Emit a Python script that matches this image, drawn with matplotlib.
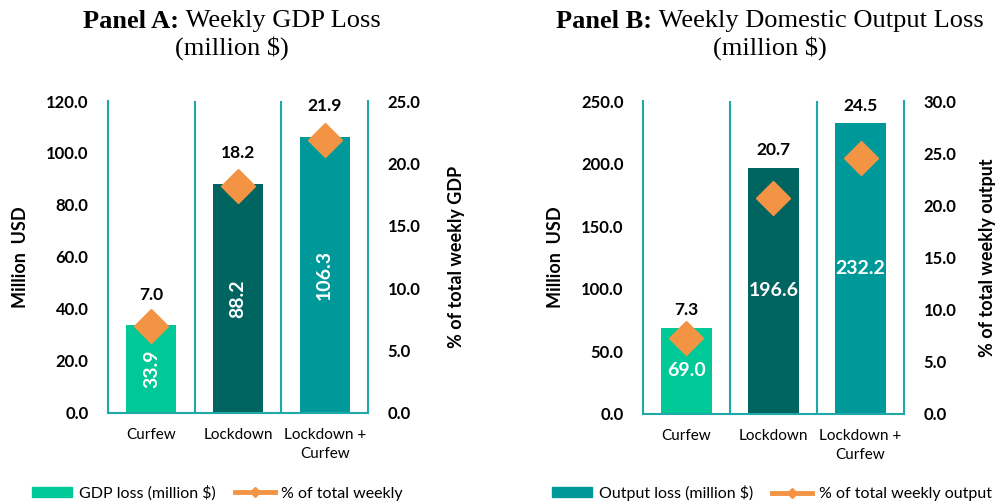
import matplotlib.pyplot as plt
import numpy as np
from matplotlib.lines import Line2D
from matplotlib.patches import Patch

plt.rcParams['font.family'] = ['Lato', 'DejaVu Sans']

categories = ['Curfew', 'Lockdown', 'Lockdown +\nCurfew']
gdp_loss = [33.9, 88.2, 106.3]
gdp_pct = [7.0, 18.2, 21.9]
output_loss = [69.0, 196.6, 232.2]
output_pct = [7.3, 20.7, 24.5]

bar_colors = ['#00c896', '#006461', '#009999']
orange = '#f39445'
teal_line = '#1fa8a8'

fig = plt.figure(figsize=(10.02, 5.04), dpi=100)
titles = []


def panel(rect, loss, pct, ymax, ystep, pmax, title_bold, title_rest, title_cx,
          right_label, right_pad, legend_bar, legend_bar_color, legend_line,
          rotate_inner, label_pad, leg_x):
    ax = fig.add_axes(rect)
    x = np.arange(len(categories))
    ax.bar(x, loss, width=0.58, color=bar_colors, zorder=2)
    ax.set_xlim(-0.5, 2.5)
    ax.set_ylim(0, ymax)
    ticks = np.arange(0, ymax + 0.01, ystep)
    ax.set_yticks(ticks)
    ax.set_yticklabels([f'{v:.1f}' for v in ticks])
    ax.set_xticks(x)
    ax.set_xticklabels(categories, fontsize=11, linespacing=1.4)
    ax.tick_params(axis='y', length=0, pad=14, labelsize=12)
    ax.tick_params(axis='x', length=0, pad=11)
    for lab in ax.get_yticklabels():
        lab.set_fontweight('bold')
    ax.spines['top'].set_visible(False)
    for s in ['left', 'right', 'bottom']:
        ax.spines[s].set_color(teal_line)
        ax.spines[s].set_linewidth(1.5)
    for sep in [0.5, 1.5]:
        ax.axvline(sep, color=teal_line, lw=1.5, zorder=1)
    ax.set_ylabel('Million  USD', fontsize=13, fontweight='bold', labelpad=12)

    for i, v in enumerate(loss):
        ax.text(i, v / 2, f'{v:.1f}', rotation=90 if rotate_inner else 0,
                ha='center', va='center', color='white', fontsize=14,
                fontweight='bold', zorder=4)

    ax2 = ax.twinx()
    ax2.set_ylim(0, pmax)
    pticks = np.arange(0, pmax + 0.01, 5)
    ax2.set_yticks(pticks)
    ax2.set_yticklabels([f'{v:.1f}' for v in pticks])
    ax2.tick_params(axis='y', length=0, pad=14, labelsize=12)
    for lab in ax2.get_yticklabels():
        lab.set_fontweight('bold')
    for s in ax2.spines.values():
        s.set_visible(False)
    ax2.plot(x, pct, linestyle='none', marker='D', markersize=17,
             color=orange, zorder=5)
    ax2.set_ylabel(right_label, fontsize=13, fontweight='bold',
                   labelpad=right_pad)

    for i, v in enumerate(pct):
        top = max(v, loss[i] / ymax * pmax)
        ax2.annotate(f'{v:.1f}', (i, top), xytext=(0, label_pad),
                     textcoords='offset points', ha='center', va='bottom',
                     fontsize=12.5, fontweight='bold')

    t1 = fig.text(0, 0.958, title_bold, ha='left', va='center',
                  family='Liberation Serif', fontsize=19, fontweight='bold')
    t2 = fig.text(0, 0.958, '\u00a0' + title_rest, ha='left', va='center',
                  family='Liberation Serif', fontsize=19)
    titles.append((t1, t2, title_cx))
    fig.text(title_cx, 0.905, '(million $)', ha='center', va='center',
             family='Liberation Serif', fontsize=19)

    handles = [Patch(color=legend_bar_color, label=legend_bar),
               Line2D([0], [0], color=orange, lw=3.5, marker='D', markersize=5,
                      label=legend_line)]
    fig.legend(handles=handles, loc='center left', bbox_to_anchor=(leg_x, 0.022),
               ncol=2, frameon=False, fontsize=11.5, handlelength=2.5,
               handleheight=0.6, columnspacing=1.2, handletextpad=0.4)
    return ax


panel([0.1078, 0.1806, 0.2595, 0.619], gdp_loss, gdp_pct, 120, 20, 25,
      'Panel A:', 'Weekly GDP Loss', 0.2315, '% of total weekly GDP', 20,
      'GDP loss (million $)', '#00c896', '% of total weekly', True, 16, 0.018)
panel([0.6417, 0.1786, 0.2605, 0.621], output_loss, output_pct, 250, 50, 30,
      'Panel B:', 'Weekly Domestic Output Loss', 0.768,
      '% of total weekly output', 16,
      'Output loss (million $)', '#009999', '% of total weekly output', False, 7, 0.537)

# center each two-part title on its panel
fig.canvas.draw()
renderer = fig.canvas.get_renderer()
fw = fig.get_figwidth() * fig.dpi
for t1, t2, cx in titles:
    w1 = t1.get_window_extent(renderer).width / fw
    w2 = t2.get_window_extent(renderer).width / fw
    start = cx - (w1 + w2) / 2
    t1.set_x(start)
    t2.set_x(start + w1)

fig.savefig('out.png', dpi=100)
